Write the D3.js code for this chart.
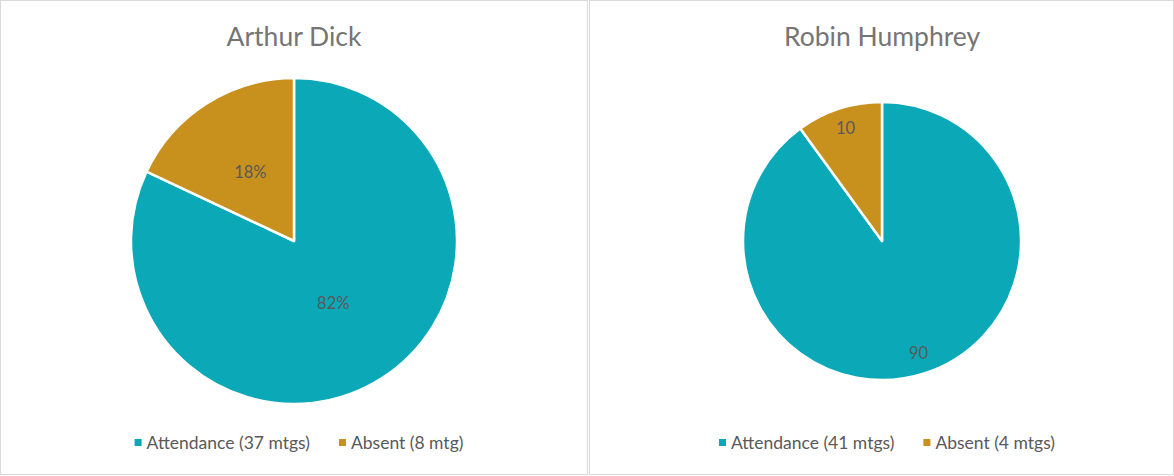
<!DOCTYPE html>
<html>
<head>
<meta charset="utf-8">
<script src="https://cdn.jsdelivr.net/npm/d3@7"></script>
<style>
  html, body { margin: 0; padding: 0; background: #fff; }
  svg { display: block; }
</style>
</head>
<body>
<div id="chart"></div>
<script>
// chart data
const names = ['Arthur Dick', 'Robin Humphrey'];
const categories = ['Attendance', 'Absent'];
const attendance = [82, 90];
const absent = [18, 10];
const labelText = [['82%', '18%'], ['90', '10']];
const legendText = [
  ['Attendance (37 mtgs)', 'Absent (8 mtg)'],
  ['Attendance (41 mtgs)', 'Absent (4 mtgs)']
];

const colors = ['#0ba8b8', '#c8911e'];
const font = 'Lato, "Open Sans", sans-serif';

const W = 1174, H = 476;
const panels = [
  {x: 0.5, w: 587, cx: 294, cy: 241, r: 163, labelR: [0.45, 0.5]},
  {x: 589.5, w: 584, cx: 882, cy: 241, r: 139, labelR: [0.85, 0.85]}
];

const svg = d3.select('#chart').append('svg')
    .attr('width', W)
    .attr('height', H);

const pie = d3.pie().sort(null).value(d => d);

panels.forEach(function(p, i) {
    svg.append('rect')
        .attr('x', p.x).attr('y', 0.5)
        .attr('width', p.w).attr('height', 474)
        .attr('fill', '#fff')
        .attr('stroke', '#d9d9d9')
        .attr('stroke-width', 1);

    svg.append('text')
        .attr('x', p.cx).attr('y', 46)
        .attr('text-anchor', 'middle')
        .attr('font-family', font)
        .attr('font-size', 26.5)
        .attr('fill', '#757575')
        .text(names[i]);

    let g = svg.append('g').attr('transform', 'translate(' + p.cx + ',' + p.cy + ')');
    let arcs = pie([attendance[i], absent[i]]);
    let arc = d3.arc().innerRadius(0).outerRadius(p.r);

    g.selectAll('path')
        .data(arcs)
        .enter().append('path')
        .attr('d', arc)
        .attr('fill', (d, j) => colors[j])
        .attr('stroke', '#fff')
        .attr('stroke-width', 2.5)
        .attr('stroke-linejoin', 'round');

    g.selectAll('text.lbl')
        .data(arcs)
        .enter().append('text')
        .attr('class', 'lbl')
        .attr('transform', function(d, j) {
            let lr = p.r * p.labelR[j];
            let c = d3.arc().innerRadius(lr).outerRadius(lr).centroid(d);
            return 'translate(' + c[0] + ',' + c[1] + ')';
        })
        .attr('dy', '0.35em')
        .attr('text-anchor', 'middle')
        .attr('font-family', font)
        .attr('font-size', 16.5)
        .attr('fill', '#595959')
        .text((d, j) => labelText[i][j]);

    // legend
    let lg = svg.append('g');
    let xPos = 0;
    categories.forEach(function(c, j) {
        let item = lg.append('g').attr('transform', 'translate(' + xPos + ',0)');
        item.append('rect')
            .attr('x', 0).attr('y', -4)
            .attr('width', 7).attr('height', 7)
            .attr('fill', colors[j]);
        let t = item.append('text')
            .attr('x', 12).attr('y', 0)
            .attr('dy', '0.35em')
            .attr('font-family', font)
            .attr('font-size', 17.5)
            .attr('fill', '#595959')
            .text(legendText[i][j]);
        xPos += 12 + t.node().getComputedTextLength() + 29;
    });
    let lw = xPos - 29;
    lg.attr('transform', 'translate(' + (p.cx + 5 - lw / 2) + ',443)');
});
</script>
</body>
</html>
